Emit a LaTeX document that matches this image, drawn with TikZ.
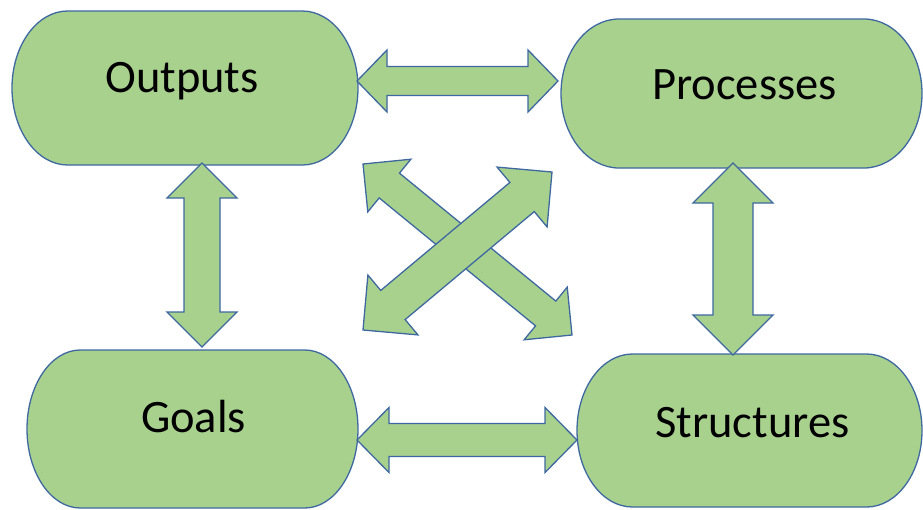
\documentclass[tikz,border=0pt]{standalone}
\usepackage{fontspec}
\setmainfont{Carlito}
\usetikzlibrary{calc}
\definecolor{boxfill}{RGB}{169,209,142}
\definecolor{boxline}{RGB}{62,104,160}
\tikzset{
  shapestyle/.style={fill=boxfill, draw=boxline, line width=1.3pt, line join=miter},
  txt/.style={font=\fontsize{46.5}{55}\selectfont, text=black, inner sep=0pt, anchor=base},
}
% double block arrow: from, to, head length, head half width, shaft half width
\newcommand\dblarrow[5]{%
\draw[shapestyle] (#1) -- ($(#1)!#3!(#2)!#4!90:(#2)$) -- ($(#1)!#3!(#2)!#5!90:(#2)$)
 -- ($(#2)!#3!(#1)!#5!-90:(#1)$) -- ($(#2)!#3!(#1)!#4!-90:(#1)$) -- (#2)
 -- ($(#2)!#3!(#1)!#4!90:(#1)$) -- ($(#2)!#3!(#1)!#5!90:(#1)$)
 -- ($(#1)!#3!(#2)!#5!-90:(#2)$) -- ($(#1)!#3!(#2)!#4!-90:(#2)$) -- cycle;}
\begin{document}
\begin{tikzpicture}[x=1pt,y=-1pt]
\useasboundingbox (0,0) rectangle (923,509);
% boxes (terminator shapes)
\draw[shapestyle] (67.7,11) -- (302.3,11) arc[start angle=-90,end angle=90,x radius=55.7,y radius=77]
  -- (67.7,165) arc[start angle=90,end angle=270,x radius=55.7,y radius=77] -- cycle;
\draw[shapestyle] (619.1,19) -- (863.9,19) arc[start angle=-90,end angle=90,x radius=58.1,y radius=74.5]
  -- (619.1,168) arc[start angle=90,end angle=270,x radius=58.1,y radius=74.5] -- cycle;
\draw[shapestyle] (80.3,350) -- (304.7,350) arc[start angle=-90,end angle=90,x radius=53.3,y radius=79]
  -- (80.3,508) arc[start angle=90,end angle=270,x radius=53.3,y radius=79] -- cycle;
\draw[shapestyle] (632.5,354) -- (866.5,354) arc[start angle=-90,end angle=90,x radius=55.5,y radius=76.5]
  -- (632.5,507) arc[start angle=90,end angle=270,x radius=55.5,y radius=76.5] -- cycle;
% labels
\node[txt] (outputs) at (182,92) {Outputs};
\node[txt] (processes) at (744.5,99) {Processes};
\node[txt] (goals) at (193.5,432) {Goals};
\node[txt] (structures) at (752.5,437) {Structures};
% arrow end points
\coordinate (op1) at (357,81);   \coordinate (op2) at (558,81);
\coordinate (gs1) at (357,440);  \coordinate (gs2) at (577,440);
\coordinate (og1) at (202,163);  \coordinate (og2) at (202,347);
\coordinate (ps1) at (733,163);  \coordinate (ps2) at (733,355);
\coordinate (os1) at (363,164);  \coordinate (os2) at (572,335);
\coordinate (gp1) at (363,330);  \coordinate (gp2) at (552,172);
% arrows
\dblarrow{op1}{op2}{30pt}{31pt}{14.5pt}
\dblarrow{gs1}{gs2}{32pt}{32.5pt}{16.5pt}
\dblarrow{og1}{og2}{35pt}{35pt}{18pt}
\dblarrow{ps1}{ps2}{40pt}{40pt}{20pt}
\dblarrow{os1}{os2}{34pt}{34pt}{16pt}
\dblarrow{gp1}{gp2}{39pt}{39pt}{19pt}
\end{tikzpicture}
\end{document}
